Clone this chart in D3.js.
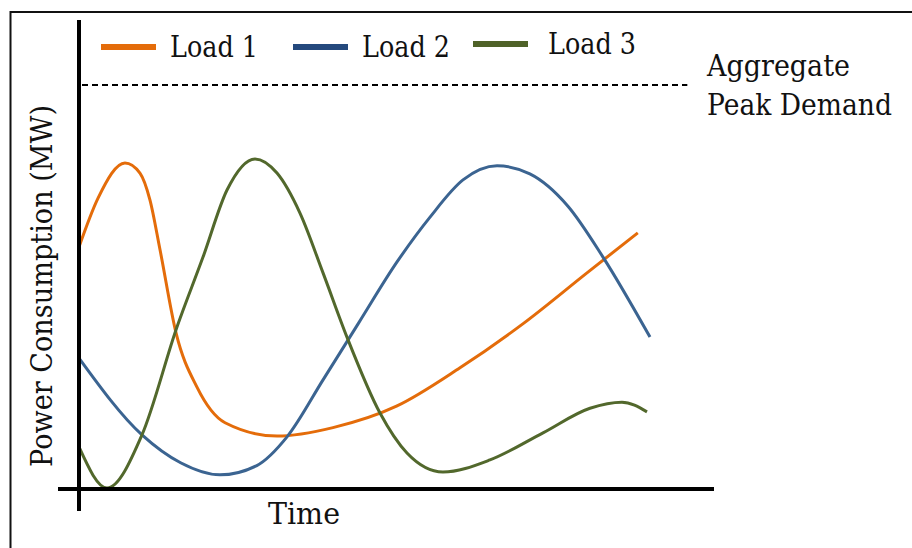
<!DOCTYPE html>
<html>
<head>
<meta charset="utf-8">
<script src="https://cdn.jsdelivr.net/npm/d3@7"></script>
<style>
  html, body { margin: 0; padding: 0; background: #fff; }
  svg { display: block; }
</style>
</head>
<body>
<div id="chart"></div>
<script>
// time in arbitrary units (0-100), power in % of aggregate peak demand
var load1Time = [0, 3, 7.24, 9.6, 11.18, 12.76, 15.3, 18.58, 23, 31.2, 40, 50, 60, 70, 80, 88];
var load1Power = [59.9, 72, 80.7, 78.2, 71.5, 59.2, 38.5, 25.2, 16.4, 13.1, 15.2, 20.5, 30, 41, 53.5, 63.4];

var load2Time = [0, 9.92, 16, 22.2, 28, 32.76, 38.43, 44, 50.08, 55.28, 60.47, 65.83, 71, 77, 82.52, 89.92];
var load2Power = [32.4, 13.4, 6.5, 3.5, 5.8, 12.9, 27, 41, 56.2, 67.3, 76.5, 80, 78, 70, 57.4, 37.6];

var load3Time = [0, 4.41, 9.92, 15.43, 19.53, 23.31, 27.72, 31.18, 34.8, 38.43, 42.2, 47.4, 51.65, 57.32, 64.72, 73.07, 80.47, 85.5, 89.45];
var load3Power = [10.4, 0.25, 13.4, 40.1, 57.4, 74, 81.7, 78.2, 68.3, 53.5, 37.6, 18.8, 8.9, 4.2, 7.2, 13.9, 20, 21.5, 19.1];

var peakDemand = 100;
var seriesNames = ["Load 1", "Load 2", "Load 3"];

var width = 912, height = 548;
var serif = "'DejaVu Serif', serif";

var svg = d3.select("#chart")
    .append("svg")
    .attr("width", width)
    .attr("height", height);

// frame
svg.append("rect")
    .attr("x", 10.5)
    .attr("y", 12)
    .attr("width", 1000)
    .attr("height", 1000)
    .attr("fill", "none")
    .attr("stroke", "#111")
    .attr("stroke-width", 2);

var x = d3.scaleLinear().domain([0, 100]).range([79, 714]);
var y = d3.scaleLinear().domain([0, 100]).range([489, 85]);

// peak demand line
svg.append("line")
    .attr("x1", x(0) + 3)
    .attr("x2", x(95.8))
    .attr("y1", y(peakDemand))
    .attr("y2", y(peakDemand))
    .attr("stroke", "#000")
    .attr("stroke-width", 1.8)
    .attr("stroke-dasharray", "6,4");

var series = [
    {name: seriesNames[0], t: load1Time, p: load1Power, color: "#e46c0a", key: "#e46c0a"},
    {name: seriesNames[1], t: load2Time, p: load2Power, color: "#3b6491", key: "#24497d"},
    {name: seriesNames[2], t: load3Time, p: load3Power, color: "#52682c", key: "#4f6228"}
];

var line = d3.line()
    .x(function(d) { return x(d[0]); })
    .y(function(d) { return y(d[1]); })
    .curve(d3.curveMonotoneX);

svg.selectAll(".load")
    .data(series)
    .enter()
    .append("path")
    .attr("class", "load")
    .attr("fill", "none")
    .attr("stroke", function(d) { return d.color; })
    .attr("stroke-width", 3)
    .attr("d", function(d) {
        return line(d.t.map(function(t, i) { return [t, d.p[i]]; }));
    });

// axes (plain thick lines, no ticks)
svg.append("line")
    .attr("x1", x(0)).attr("x2", x(0))
    .attr("y1", 20).attr("y2", 511)
    .attr("stroke", "#000").attr("stroke-width", 4);
svg.append("line")
    .attr("x1", 58).attr("x2", x(100))
    .attr("y1", y(0)).attr("y2", y(0))
    .attr("stroke", "#000").attr("stroke-width", 4);

// legend
var legendPos = [
    {sx: 101, sy: 47, tx: 170, ty: 57},
    {sx: 293, sy: 47, tx: 362, ty: 57},
    {sx: 473, sy: 44, tx: 548, ty: 54}
];
var legend = svg.selectAll(".legend")
    .data(series)
    .enter()
    .append("g")
    .attr("class", "legend");

legend.append("line")
    .attr("x1", function(d, i) { return legendPos[i].sx; })
    .attr("x2", function(d, i) { return legendPos[i].sx + 55; })
    .attr("y1", function(d, i) { return legendPos[i].sy; })
    .attr("y2", function(d, i) { return legendPos[i].sy; })
    .attr("stroke", function(d) { return d.key; })
    .attr("stroke-width", 6);

legend.append("text")
    .attr("x", function(d, i) { return legendPos[i].tx; })
    .attr("y", function(d, i) { return legendPos[i].ty; })
    .attr("font-family", serif)
    .attr("font-size", 29)
    .attr("fill", "#111")
    .attr("textLength", 88)
    .attr("lengthAdjust", "spacingAndGlyphs")
    .text(function(d) { return d.name; });

// peak demand label
svg.append("text")
    .attr("x", 707).attr("y", 76)
    .attr("font-family", serif)
    .attr("font-size", 29)
    .attr("fill", "#111")
    .attr("textLength", 143)
    .attr("lengthAdjust", "spacingAndGlyphs")
    .text("Aggregate");
svg.append("text")
    .attr("x", 707).attr("y", 115)
    .attr("font-family", serif)
    .attr("font-size", 29)
    .attr("fill", "#111")
    .attr("textLength", 185)
    .attr("lengthAdjust", "spacingAndGlyphs")
    .text("Peak Demand");

// axis titles
svg.append("text")
    .attr("x", 268).attr("y", 524)
    .attr("font-family", serif)
    .attr("font-size", 29)
    .attr("fill", "#111")
    .attr("textLength", 72)
    .attr("lengthAdjust", "spacingAndGlyphs")
    .text("Time");

svg.append("text")
    .attr("transform", "translate(52,467) rotate(-90)")
    .attr("font-family", serif)
    .attr("font-size", 29)
    .attr("fill", "#111")
    .attr("textLength", 362)
    .attr("lengthAdjust", "spacingAndGlyphs")
    .text("Power Consumption (MW)");
</script>
</body>
</html>
